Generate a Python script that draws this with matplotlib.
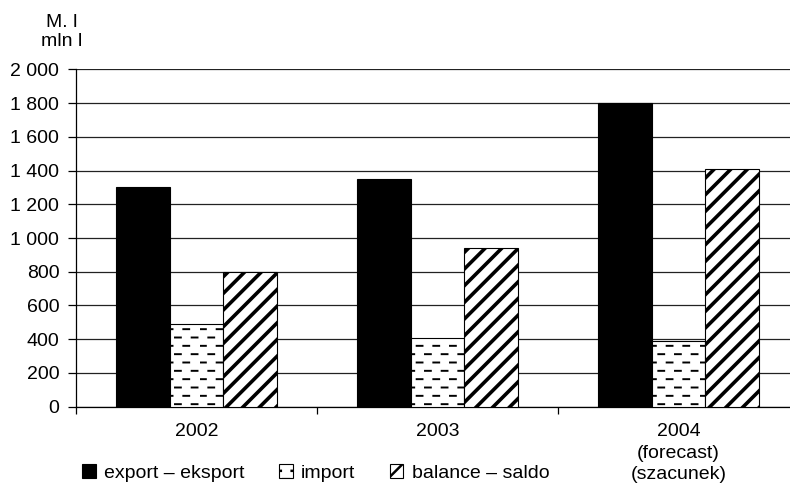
import numpy as np
import matplotlib
matplotlib.use('Agg')
import matplotlib.pyplot as plt
import matplotlib.hatch as mhatch
from matplotlib.path import Path
from matplotlib.ticker import FuncFormatter, FixedLocator

categories = ['2002', '2003', '2004\n(forecast)\n(szacunek)']
export = [1300, 1350, 1800]
imports = [490, 410, 390]
balance = [800, 940, 1410]
series_labels = ['export \u2013 eksport', 'import', 'balance \u2013 saldo']
yticks = [0, 200, 400, 600, 800, 1000, 1200, 1400, 1600, 1800, 2000]

graphWidth = 790  # pixels
graphHeight = 486  # pixels


class DashedRows(mhatch.HorizontalHatch):
    # '-' hatch drawn as staggered short dashes instead of full lines
    def __init__(self, hatch, density):
        self.num_rows = int((hatch.count('-') + hatch.count('+')) * density)
        self.num_dashes = 6
        self.num_vertices = self.num_rows * self.num_dashes * 2

    def set_vertices_and_codes(self, vertices, codes):
        ys, step = np.linspace(0.0, 1.0, self.num_rows, False, retstep=True)
        ys += step / 2.
        period = 1.0 / self.num_dashes
        dash = period * 0.35
        k = 0
        for i, y in enumerate(ys):
            off = (i % 2) * period / 2
            for j in range(self.num_dashes):
                x0 = j * period + off
                vertices[k] = (x0, y)
                vertices[k + 1] = (x0 + dash, y)
                codes[k] = Path.MOVETO
                codes[k + 1] = Path.LINETO
                k += 2


mhatch._hatch_types = [DashedRows if t is mhatch.HorizontalHatch else t
                       for t in mhatch._hatch_types]

plt.rcParams['font.family'] = ['Liberation Sans', 'DejaVu Sans']
plt.rcParams['font.size'] = 14

fig = plt.figure(figsize=(graphWidth / 100.0, graphHeight / 100.0), dpi=100)
ax = fig.add_axes([76 / 790, 79.3 / 486, 723 / 790, 337.4 / 486])

x = np.arange(len(categories))
w = 0.224
b1 = ax.bar(x - w, export, w, color='black', edgecolor='black', linewidth=0.8,
            label=series_labels[0], zorder=3)
with plt.rc_context({'hatch.linewidth': 1.4}):
    b2 = ax.bar(x, imports, w, color='white', edgecolor='black', linewidth=0.8,
                hatch='--', label=series_labels[1], zorder=3)
with plt.rc_context({'hatch.linewidth': 2.6}):
    b3 = ax.bar(x + w, balance, w, color='white', edgecolor='black', linewidth=0.8,
                hatch='//', label=series_labels[2], zorder=3)

ax.set_xlim(-0.5, 2.5)
ax.set_ylim(0, 2000)
ax.yaxis.set_major_locator(FixedLocator(yticks))
ax.yaxis.set_major_formatter(FuncFormatter(lambda v, pos: f'{v:,.0f}'.replace(',', ' ')))
ax.grid(axis='y', color='#222222', linewidth=0.9, zorder=0)

ax.set_xticks(x)
ax.set_xticklabels(categories, linespacing=1.32)
ax.xaxis.set_minor_locator(FixedLocator([-0.5, 0.5, 1.5, 2.5]))
ax.tick_params(axis='x', which='major', length=0, pad=12)
ax.tick_params(axis='x', which='minor', length=5, width=0.9, color='black')
ax.tick_params(axis='y', length=6, width=0.9, pad=6, color='black')

for s in ['top', 'right']:
    ax.spines[s].set_visible(False)
for s in ['left', 'bottom']:
    ax.spines[s].set_linewidth(0.9)
    ax.spines[s].set_color('black')

fig.text(62 / 790, 1 - 32 / 486, 'M. l\nmln l', ha='center', va='center',
         linespacing=1.1)

with plt.rc_context({'hatch.linewidth': 1.8}):
    ax.legend(loc='center left', bbox_to_anchor=(82 / 790, 1 - 473 / 486),
              bbox_transform=fig.transFigure, ncol=3, frameon=False, borderpad=0,
              borderaxespad=0, handlelength=0.7, handleheight=0.7,
              handletextpad=0.45, columnspacing=1.75)

fig.savefig('out.png', dpi=100)
plt.close('all')
